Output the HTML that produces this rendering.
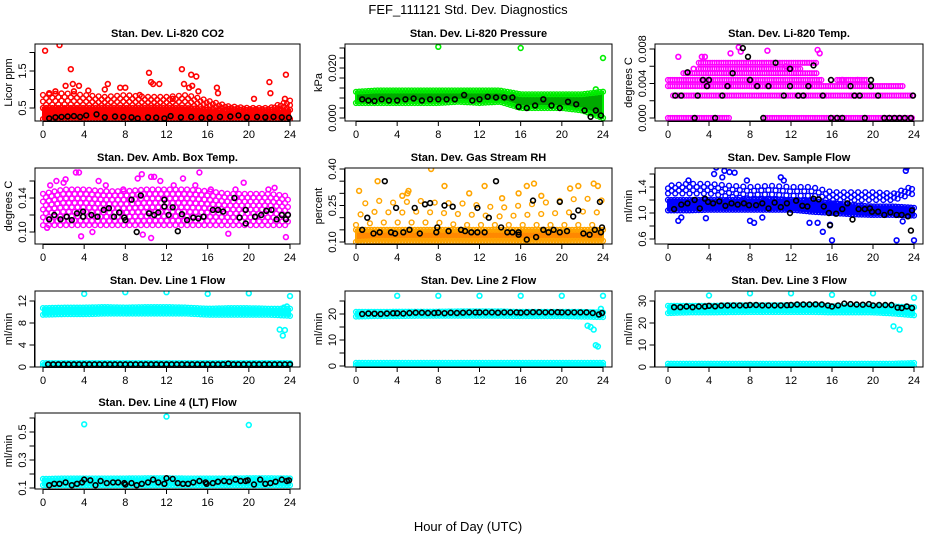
<!DOCTYPE html>
<html><head><meta charset="utf-8"><style>
body{margin:0;background:#fff}
svg{display:block;font-family:"Liberation Sans",sans-serif}
</style></head><body>
<svg id="chart" width="936" height="540" viewBox="0 0 936 540" xmlns="http://www.w3.org/2000/svg">
<rect width="936" height="540" fill="#fff"/>
<text x="468" y="14" text-anchor="middle" font-size="13">FEF_111121  Std. Dev. Diagnostics</text>
<text x="468" y="531" text-anchor="middle" font-size="13">Hour of Day (UTC)</text>
</svg>
<script>
// ---------- data ----------
const xTicks=[0,4,8,12,16,20,24];
const bandHours=[0,2,4,6,8,10,12,14,16,18,20,22,24];

// Panel 1 CO2
const co2Lo=[0.2,0.2,0.2,0.2,0.2,0.2,0.2,0.2,0.2,0.2,0.2,0.2,0.2];
const co2Mid=[0.5,0.5,0.5,0.5,0.5,0.5,0.5,0.5,0.45,0.4,0.38,0.38,0.45];
const co2Hi=[0.85,0.9,0.85,0.8,0.85,0.8,0.8,0.85,0.7,0.55,0.5,0.5,0.7];
const co2Ox=[0.2,1.6,2.7,2.2,2.9,3.5,4.4,6.0,6.3,7.5,8.0,10.3,10.5,10.7,11.3,13.5,13.7,14.2,14.5,14.4,14.9,15.1,16.9,17.0,22.0,22.1,23.6,23.5,20.5,9.4,12.6,3.0,0.6,1.2];
const co2Oy=[2.05,2.2,1.55,1.1,1.15,1.1,0.97,1.0,1.15,1.05,1.05,1.45,1.2,1.15,1.15,1.55,1.15,1.05,1.1,1.4,1.35,0.95,1.05,0.9,1.2,0.9,1.4,0.75,0.75,0.85,0.75,0.95,0.9,0.95];
const co2Bx=[0.6,1.2,1.8,2.4,3.0,3.6,4.2,5.2,6.0,7.0,7.8,8.6,9.2,10.2,11.0,11.8,12.4,13.4,14.4,15.4,16.2,17.2,18.2,19.0,19.8,20.8,21.6,22.4,23.2,23.9];
const co2By=[0.22,0.25,0.26,0.27,0.28,0.26,0.3,0.33,0.25,0.27,0.26,0.25,0.22,0.25,0.24,0.22,0.28,0.25,0.26,0.24,0.24,0.26,0.27,0.3,0.25,0.26,0.25,0.26,0.25,0.24];

// Panel 2 Pressure
const prLo=[0.006,0.006,0.006,0.006,0.006,0.0065,0.006,0.0065,0.004,0.004,0.004,0.003,0.0];
const prHi=[0.0105,0.011,0.011,0.011,0.011,0.011,0.011,0.011,0.0095,0.0095,0.0095,0.0095,0.0105];
const prOx=[8,16,24,23.3];
const prOy=[0.0285,0.028,0.024,0.0115];
const prBx=[0.6,1.2,1.8,2.5,3.2,4.0,4.8,5.6,6.4,7.2,8.0,8.8,9.6,10.5,11.3,12.0,12.8,13.6,14.4,15.2,15.8,16.6,17.4,18.2,19.0,19.8,20.6,21.4,22.2,22.8,23.3,23.8];
const prBy=[0.0075,0.007,0.0068,0.0075,0.007,0.007,0.0075,0.0078,0.007,0.0075,0.0075,0.0075,0.0075,0.0092,0.007,0.0075,0.0085,0.0082,0.0082,0.0082,0.0045,0.004,0.005,0.0075,0.005,0.004,0.0065,0.0055,0.003,0.0005,0.003,0.001];

// Panel 3 Temp (discrete levels as segments)
const tSegLevel=[0,0,0.0026,0.0037,0.0044,0.0044,0.0052,0.0057,0.0064];
const tSegStart=[0,9.5,0.5,0,0,16.5,1.5,3,3];
const tSegEnd=[6,24,24,23,15,19.5,14.5,13,14.5];
const tOx=[1.0,3.3,3.6,6.1,6.9,7.1,9.7,14.6,14.8,2.5,11.5,17.0,18.5];
const tOy=[0.0071,0.0071,0.0071,0.0075,0.0082,0.0077,0.0078,0.0079,0.0075,0.0057,0.006,0.0044,0.0044];
const tBx=[0.7,1.3,1.9,2.6,2.9,3.4,3.8,4.0,4.6,5.3,5.8,6.3,7.3,7.8,8.0,8.7,9.3,9.8,10.5,11.3,11.9,11.9,12.7,13.2,13.7,14.2,15.1,15.9,15.9,16.5,17.0,17.8,18.2,18.7,19.2,19.8,19.8,20.5,21.1,21.6,22.1,22.6,23.1,23.7,23.9];
const tBy=[0.0026,0.0026,0.0053,0,0.0026,0.0044,0.0037,0.0044,0,0.0026,0.0037,0.0052,0.0081,0.0071,0.0044,0.0037,0,0.0037,0.0064,0.0026,0.0037,0.0057,0.0026,0.0026,0.0037,0.0061,0.0026,0.0044,0,0,0,0.0037,0.0026,0.0026,0,0.0044,0.0037,0.0026,0,0,0,0,0,0,0.0026];

// Panel 4 Amb Box Temp
const abLo=[0.108,0.108,0.108,0.108,0.108,0.108,0.108,0.108,0.108,0.108,0.108,0.108,0.108];
const abHi=[0.145,0.15,0.15,0.148,0.148,0.15,0.15,0.15,0.148,0.145,0.145,0.145,0.142];
const abOx=[0.7,1.3,3.2,3.5,2.2,5.4,6.1,7.8,9.6,9.2,10.5,10.8,11.4,12.7,13.6,15.2,14.8,16.3,18.7,21.9,22.5,3.7,9.7,10.5,18.0,21.9,23.6,0.4,4.8,2.0,19.5];
const abOy=[0.155,0.16,0.17,0.17,0.162,0.16,0.155,0.15,0.168,0.163,0.165,0.165,0.16,0.155,0.163,0.17,0.155,0.15,0.15,0.15,0.152,0.095,0.097,0.093,0.098,0.08,0.094,0.105,0.1,0.158,0.158];
const abBx=[0.6,1.1,1.7,2.3,2.8,3.3,3.9,3.9,4.7,5.3,5.9,6.4,6.9,7.4,7.9,8.0,8.6,9.1,9.5,10.3,10.8,11.2,11.8,11.8,12.2,12.6,13.1,13.5,14.0,14.6,15.1,15.6,16.5,17.0,17.5,18.0,18.6,19.1,19.7,19.7,20.6,21.2,21.7,22.2,22.7,23.2,23.6,23.8];
const abBy=[0.115,0.12,0.115,0.118,0.114,0.122,0.118,0.124,0.12,0.118,0.126,0.128,0.118,0.123,0.117,0.114,0.138,0.1,0.143,0.122,0.12,0.123,0.13,0.138,0.12,0.129,0.101,0.121,0.114,0.117,0.116,0.118,0.126,0.126,0.124,0.08,0.14,0.117,0.126,0.11,0.118,0.12,0.125,0.126,0.115,0.12,0.115,0.12];

// Panel 5 Gas Stream RH
const rhLo=[0.10,0.105,0.105,0.105,0.105,0.105,0.105,0.105,0.105,0.105,0.105,0.105,0.105];
const rhHi=[0.15,0.15,0.15,0.15,0.15,0.15,0.15,0.15,0.15,0.15,0.15,0.15,0.15];
const rh2Lo=[0.17,0.18,0.18,0.18,0.18,0.17,0.17,0.17,0.17,0.17,0.17,0.17,0.17];
const rh2Hi=[0.25,0.27,0.26,0.27,0.26,0.26,0.25,0.24,0.25,0.26,0.27,0.28,0.27];
const rhOx=[0.3,2.1,7.3,8.6,5.0,12.5,15.8,16.6,17.3,20.8,21.6,23.1,23.5,18.0,5.1,4.5,11.0,14.2];
const rhOy=[0.31,0.35,0.40,0.33,0.30,0.33,0.30,0.33,0.34,0.32,0.33,0.34,0.33,0.29,0.31,0.29,0.30,0.28];
const rhBx=[0.6,1.1,1.7,2.3,2.8,3.4,3.8,3.9,4.6,5.2,5.7,6.2,6.7,7.2,7.8,7.9,8.6,9.0,9.4,10.2,10.6,11.2,11.8,11.8,12.5,12.9,13.6,14.1,14.7,15.2,15.8,15.8,16.6,17.2,17.5,18.2,18.7,19.2,19.8,19.8,20.5,21.1,21.6,22.1,22.7,23.2,23.7,23.8,23.9];
const rhBy=[0.15,0.2,0.135,0.14,0.35,0.14,0.135,0.24,0.14,0.15,0.24,0.135,0.255,0.26,0.14,0.16,0.25,0.145,0.245,0.15,0.145,0.14,0.14,0.24,0.14,0.2,0.35,0.16,0.14,0.14,0.13,0.14,0.11,0.27,0.12,0.15,0.14,0.15,0.14,0.265,0.145,0.205,0.23,0.135,0.13,0.15,0.265,0.14,0.16];

// Panel 6 Sample Flow
const sfLo=[1.04,1.04,1.05,1.05,1.05,1.05,1.05,1.02,1.0,0.98,0.97,0.97,0.96];
const sfHi=[1.2,1.2,1.2,1.2,1.2,1.2,1.2,1.18,1.15,1.12,1.1,1.1,1.08];
const sf2Lo=[1.3,1.3,1.3,1.25,1.22,1.22,1.2,1.2,1.2,1.2,1.2,1.2,1.3];
const sf2Hi=[1.42,1.45,1.45,1.42,1.4,1.42,1.4,1.4,1.32,1.32,1.32,1.3,1.42];
const sfOx=[4.5,4.7,5.5,6.0,6.5,5.3,11.0,23.2,23.3,1.0,1.3,3.7,8.0,8.4,9.2,13.8,14.6,15.1,15.8,16.0,22.3,24.0,22.9,7.7,2.0,11.3];
const sfOy=[1.6,1.7,1.65,1.63,1.62,1.55,1.55,1.65,1.7,0.88,0.93,0.92,0.88,0.85,0.93,0.85,0.85,0.71,0.82,0.58,0.58,0.58,0.87,1.5,1.5,1.5];
const sfBx=[0.6,1.3,1.9,2.6,3.1,3.6,3.9,4.4,5.0,5.6,6.2,6.8,7.4,7.9,8.6,9.2,9.8,10.4,11.0,11.6,11.9,12.5,13.1,13.6,14.2,14.7,15.2,15.7,15.8,16.4,17.0,17.5,18.0,18.6,19.2,19.7,19.9,20.5,21.1,21.7,22.3,22.8,23.4,23.7,23.8];
const sfBy=[1.06,1.13,1.15,1.2,1.07,1.22,1.17,1.15,1.18,1.11,1.15,1.13,1.15,1.12,1.12,1.15,1.07,1.16,1.09,1.15,1.0,1.19,1.11,1.1,1.22,1.21,1.1,1.0,0.81,0.99,1.06,1.15,0.9,1.06,1.06,1.07,1.02,1.02,0.97,1.01,0.97,0.97,0.95,0.73,1.04];

// Panel 7 Line 1 Flow
const l1Lo=[9.5,9.6,9.6,9.7,9.7,9.7,9.7,9.7,9.5,9.5,9.5,9.5,9.3];
const l1Hi=[10.7,10.8,10.8,10.9,10.8,10.9,10.9,10.8,10.6,10.7,10.7,10.6,10.6];
const l1LoB=[0.2,0.2,0.2,0.2,0.2,0.2,0.2,0.2,0.2,0.2,0.2,0.2,0.2];
const l1HiB=[0.7,0.7,0.7,0.7,0.7,0.7,0.7,0.7,0.7,0.7,0.7,0.7,0.7];
const l1Ox=[4,8,12,16,20,24,23.0,23.3,23.5,23.4,23.7];
const l1Oy=[13.3,13.6,13.6,13.3,13.4,12.9,6.8,5.7,6.7,10.8,11.0];
const l1Bx=[0.5,1,1.5,2,2.5,3,3.5,4,4.5,5,5.5,6,6.5,7,7.5,8,8.5,9,9.5,10,10.5,11,11.5,12,12.5,13,13.5,14,14.5,15,15.5,16,16.5,17,17.5,18,18.5,19,19.5,20,20.5,21,21.5,22,22.5,23,23.5,24];
const l1By=[0.5,0.5,0.5,0.5,0.5,0.5,0.5,0.5,0.5,0.5,0.5,0.5,0.5,0.5,0.5,0.5,0.5,0.5,0.5,0.5,0.5,0.5,0.5,0.5,0.5,0.5,0.5,0.5,0.5,0.5,0.5,0.5,0.5,0.5,0.5,0.6,0.5,0.5,0.5,0.5,0.5,0.5,0.5,0.5,0.5,0.5,0.5,0.5];

// Panel 8 Line 2 Flow
const l2Lo=[19.0,19.2,19.2,19.3,19.3,19.3,19.3,19.3,19.2,19.2,19.2,19.0,18.8];
const l2Hi=[20.8,20.8,20.9,20.9,20.9,21.0,21.0,21.0,20.8,20.8,20.8,20.8,20.6];
const l2LoB=[0.2,0.2,0.2,0.2,0.2,0.2,0.2,0.2,0.2,0.2,0.2,0.2,0.2];
const l2HiB=[1.2,1.2,1.2,1.2,1.2,1.2,1.2,1.2,1.2,1.2,1.2,1.2,1.2];
const l2Ox=[4,8,12,16,20,24,22.5,22.8,23.3,23.5,23.8,23.1];
const l2Oy=[27,27,27,27,27,27,15.5,15,8,7.5,22,14];
const l2Bx=[0.6,1.2,1.8,2.4,3.0,3.6,4.0,4.6,5.2,5.8,6.4,7.0,7.6,8.0,8.6,9.2,9.8,10.4,11.0,11.6,12.0,12.6,13.2,13.8,14.4,15.0,15.6,16.0,16.6,17.2,17.8,18.4,19.0,19.6,20.0,20.6,21.2,21.8,22.4,23.0,23.6,23.9];
const l2By=[20,20.2,20.1,20,20.2,20.3,20.3,20.2,20.4,20.5,20.5,20.4,20.4,20.5,20.3,20.5,20.4,20.5,20.6,20.6,20.6,20.6,20.6,20.5,20.6,20.6,20.6,20.5,20.6,20.7,20.7,20.6,20.7,20.7,20.6,20.6,20.6,20.6,20.6,20.4,19.8,20.4];

// Panel 9 Line 3 Flow
const l3Lo=[24.5,24.8,24.8,24.9,25.0,25.0,25.0,25.0,24.8,24.8,24.8,24.3,23.5];
const l3Hi=[27.8,27.8,27.8,28.0,28.0,28.0,28.0,28.0,27.6,27.6,27.6,27.5,27.2];
const l3LoB=[0.2,0.2,0.2,0.2,0.2,0.2,0.2,0.2,0.2,0.2,0.2,0.2,0.2];
const l3HiB=[1.5,1.5,1.5,1.5,1.5,1.5,1.5,1.5,1.5,1.5,1.5,1.5,1.8];
const l3Ox=[4,8,12,16,20,24,22,22.6];
const l3Oy=[32.5,33.5,33.5,32.8,33.5,31.5,18.5,17];
const l3Bx=[0.6,1.2,1.8,2.4,3.0,3.6,4.0,4.6,5.2,5.8,6.4,7.0,7.6,8.0,8.6,9.2,9.8,10.4,11.0,11.6,12.0,12.6,13.2,13.8,14.4,15.0,15.6,16.0,16.6,17.2,17.8,18.4,19.0,19.6,20.0,20.6,21.2,21.8,22.4,22.8,23.3,23.8];
const l3By=[27.2,27.2,27.5,27.2,27.5,27.5,27.8,27.6,27.9,28.0,28.0,28.0,28.0,28.2,28.2,28.0,28.0,28.0,28.0,28.1,28.2,28.4,28.4,28.4,28.5,28.4,28.0,27.5,28.0,28.8,28.6,28.4,28.3,28.6,28.0,28.2,28.2,28.2,27.0,26.8,27.5,26.8];

// Panel 10 Line 4 (LT) Flow
const l4Lo=[0.12,0.12,0.12,0.12,0.12,0.12,0.12,0.12,0.12,0.12,0.12,0.12,0.12];
const l4Hi=[0.165,0.168,0.168,0.168,0.168,0.17,0.17,0.168,0.168,0.168,0.17,0.17,0.168];
const l4Ox=[4,12,20];
const l4Oy=[0.555,0.61,0.55];
const l4Bx=[0.6,1.1,1.6,2.2,2.8,3.3,3.8,4.0,4.6,5.1,5.6,6.2,6.8,7.3,7.9,8.0,8.6,9.1,9.6,10.2,10.7,11.2,11.8,12.0,12.6,13.1,13.6,14.1,14.6,15.2,15.8,15.9,16.5,17.0,17.6,18.1,18.7,19.2,19.7,19.9,20.5,21.1,21.6,22.1,22.6,23.2,23.7,23.9];
const l4By=[0.12,0.13,0.13,0.14,0.12,0.13,0.14,0.16,0.155,0.12,0.15,0.135,0.14,0.14,0.135,0.125,0.135,0.12,0.13,0.14,0.16,0.14,0.13,0.17,0.165,0.135,0.13,0.13,0.14,0.15,0.14,0.13,0.135,0.145,0.15,0.145,0.16,0.15,0.15,0.155,0.125,0.16,0.13,0.135,0.145,0.16,0.15,0.155];

// ---------- rendering ----------
const NS="http://www.w3.org/2000/svg";
const svg=document.getElementById('chart');
const colL=[35,345,655],colR=[300,612,923],colX0=[43,356,668],colX24=[290,603,914];
const rowT=[44,168,291,413],rowB=[121,244,367,489];

function mk(tag,attrs,parent){const e=document.createElementNS(NS,tag);for(const k in attrs)e.setAttribute(k,attrs[k]);(parent||svg).appendChild(e);return e;}

function panel(p){
  const g=mk('g',{});
  
  
  const L=colL[p.c],R=colR[p.c],T=rowT[p.r],B=rowB[p.r];
  const xs=h=>colX0[p.c]+(colX24[p.c]-colX0[p.c])*h/24;
  const ys=v=>p.m[1]+(v-p.m[0])*(p.m[3]-p.m[1])/(p.m[2]-p.m[0]);
  const cp=mk('clipPath',{id:'cp'+p.name},g);mk('rect',{x:L,y:T,width:R-L,height:B-T},cp);
  const pg=mk('g',{'clip-path':'url(#cp'+p.name+')'},g);
  const circ=(x,y,col,w,fill)=>{const c=mk('circle',{cx:x.toFixed(1),cy:y.toFixed(1),r:2.4,fill:fill||'none',stroke:col,'stroke-width':w||1.4},pg);return c;};
  (p.bands||[]).forEach(b=>{
    let pts=bandHours.map((h,i)=>xs(h)+','+ys(b.hi[i]));
    pts=pts.concat(bandHours.map((h,i)=>xs(h)+','+ys(b.lo[i])).reverse());
    if(!b.sparse){const poly=mk('polygon',{points:pts.join(' '),fill:b.fill||p.col,stroke:p.col,'stroke-width':2},pg);
      }
    const step=b.step||(b.sparse?0.45:0.3);
    const nl=b.levels||3;
    let k=0;
    for(let h=0;h<=24.01;h+=step){
      const i=Math.min(11,Math.floor(h/2)),f=(h-bandHours[i])/2;
      const lo=b.lo[i]+(b.lo[i+1]-b.lo[i])*f,hi=b.hi[i]+(b.hi[i+1]-b.hi[i])*f;
      if(b.sparse){
        if(nl>3){for(let j=0;j<nl;j++){if((j+k)%2===0)circ(xs(h),ys(lo+(hi-lo)*j/(nl-1)),p.col);}}
        else{const v=lo+(hi-lo)*((k%3)/2);circ(xs(h),ys(v),p.col);}
      }
      else{circ(xs(h),ys(lo),p.col);circ(xs(h),ys(hi),p.col);}
      k++;
    }
  });
  if(p.segs){p.segs.level.forEach((lv,i)=>{for(let h=p.segs.start[i];h<=p.segs.end[i];h+=0.22)circ(xs(h),ys(lv),p.col);});}
  p.ox.forEach((x,i)=>circ(xs(x),ys(p.oy[i]),p.col,1.6));
  p.bx.forEach((x,i)=>circ(xs(x),ys(p.by[i]),'#000',1.6));
  mk('rect',{x:L,y:T,width:R-L,height:B-T,fill:'none',stroke:'#000','stroke-width':1},g);
  // x axis
  mk('line',{x1:xs(0),x2:xs(24),y1:B+0.5,y2:B+0.5,stroke:'#000'},g);
  xTicks.forEach(t=>{mk('line',{x1:xs(t),x2:xs(t),y1:B,y2:B+5,stroke:'#000'},g);
    const tx=mk('text',{x:xs(t),y:B+17,'text-anchor':'middle','font-size':11},g);tx.textContent=t;
    });
  // y axis
  const ax=L-0.5;
  mk('line',{x1:ax,x2:ax,y1:ys(p.ticks[0]),y2:ys(p.ticks[p.ticks.length-1]),stroke:'#000'},g);
  p.ticks.forEach((t,i)=>{const y=ys(t);mk('line',{x1:ax-5,x2:ax,y1:y,y2:y,stroke:'#000'},g);
    if(p.tl[i]){const tx=mk('text',{x:0,y:0,transform:`translate(${L-9},${y}) rotate(-90)`,'text-anchor':'middle','font-size':11},g);tx.textContent=p.tl[i];
      }});
  const yl=mk('text',{transform:`translate(${L-23},${(T+B)/2}) rotate(-90)`,'text-anchor':'middle','font-size':11},g);yl.textContent=p.ylab;
  
  const ti=mk('text',{x:(L+R)/2,y:T-7,'text-anchor':'middle','font-size':11,'font-weight':'bold'},g);ti.textContent=p.title;
  
}

const ML='ml/min';
panel({name:'co2-panel',c:0,r:0,title:'Stan. Dev. Li-820 CO2',ylab:'Licor ppm',col:'#f00',m:[0.5,108,1.5,71],ticks:[0.5,1,1.5,2],tl:['0.5','','1.5',''],bands:[{lo:co2Lo,hi:co2Mid},{lo:co2Mid,hi:co2Hi,sparse:true,levels:5,step:0.3}],ox:co2Ox,oy:co2Oy,bx:co2Bx,by:co2By});
panel({name:'pressure-panel',c:1,r:0,title:'Stan. Dev. Li-820 Pressure',ylab:'kPa',col:'#0e0',m:[0,118,0.02,68],ticks:[0,0.004,0.008,0.012,0.016,0.02,0.024,0.028],tl:['0.000','','','','','0.020','',''],bands:[{lo:prLo,hi:prHi,fill:'#0a0'}],ox:prOx,oy:prOy,bx:prBx,by:prBy});
panel({name:'temp-panel',c:2,r:0,title:'Stan. Dev. Li-820 Temp.',ylab:'degrees C',col:'#f0f',m:[0,118,0.008,49],ticks:[0,0.002,0.004,0.006,0.008],tl:['0.000','','0.004','','0.008'],segs:{level:tSegLevel,start:tSegStart,end:tSegEnd},ox:tOx,oy:tOy,bx:tBx,by:tBy});
panel({name:'ambbox-panel',c:0,r:1,title:'Stan. Dev. Amb. Box Temp.',ylab:'degrees C',col:'#f0f',m:[0.10,232,0.14,198],ticks:[0.10,0.12,0.14,0.16],tl:['0.10','','0.14',''],bands:[{lo:abLo,hi:abHi,sparse:true,levels:9,step:0.28}],ox:abOx,oy:abOy,bx:abBx,by:abBy});
panel({name:'rh-panel',c:1,r:1,title:'Stan. Dev. Gas Stream RH',ylab:'percent',col:'#ffa500',m:[0.10,242,0.40,169],ticks:[0.10,0.15,0.20,0.25,0.30,0.35,0.40],tl:['0.10','','','0.25','','','0.40'],bands:[{lo:rhLo,hi:rhHi,fill:'#f80'},{lo:rh2Lo,hi:rh2Hi,sparse:true}],ox:rhOx,oy:rhOy,bx:rhBx,by:rhBy});
panel({name:'sampleflow-panel',c:2,r:1,title:'Stan. Dev. Sample Flow',ylab:ML,col:'#00f',m:[0.6,239,1.4,187],ticks:[0.6,0.8,1.0,1.2,1.4,1.6],tl:['0.6','','1.0','','1.4',''],bands:[{lo:sfLo,hi:sfHi},{lo:sf2Lo,hi:sf2Hi,sparse:true,levels:4,step:0.35}],ox:sfOx,oy:sfOy,bx:sfBx,by:sfBy});
panel({name:'line1-panel',c:0,r:2,title:'Stan. Dev. Line 1 Flow',ylab:ML,col:'#0ff',m:[0,367,12,301],ticks:[0,4,8,12],tl:['0','4','8','12'],bands:[{lo:l1Lo,hi:l1Hi},{lo:l1LoB,hi:l1HiB}],ox:l1Ox,oy:l1Oy,bx:l1Bx,by:l1By});
panel({name:'line2-panel',c:1,r:2,title:'Stan. Dev. Line 2 Flow',ylab:ML,col:'#0ff',m:[0,366,20,314],ticks:[0,5,10,15,20,25],tl:['0','','10','','20',''],bands:[{lo:l2Lo,hi:l2Hi},{lo:l2LoB,hi:l2HiB}],ox:l2Ox,oy:l2Oy,bx:l2Bx,by:l2By});
panel({name:'line3-panel',c:2,r:2,title:'Stan. Dev. Line 3 Flow',ylab:ML,col:'#0ff',m:[0,367,30,301],ticks:[0,10,20,30],tl:['0','10','20','30'],bands:[{lo:l3Lo,hi:l3Hi},{lo:l3LoB,hi:l3HiB}],ox:l3Ox,oy:l3Oy,bx:l3Bx,by:l3By});
panel({name:'line4-panel',c:0,r:3,title:'Stan. Dev. Line 4 (LT) Flow',ylab:ML,col:'#0ff',m:[0.1,488,0.5,432],ticks:[0.1,0.2,0.3,0.4,0.5,0.6],tl:['0.1','','0.3','','0.5',''],bands:[{lo:l4Lo,hi:l4Hi}],ox:l4Ox,oy:l4Oy,bx:l4Bx,by:l4By});
</script>
</body></html>
